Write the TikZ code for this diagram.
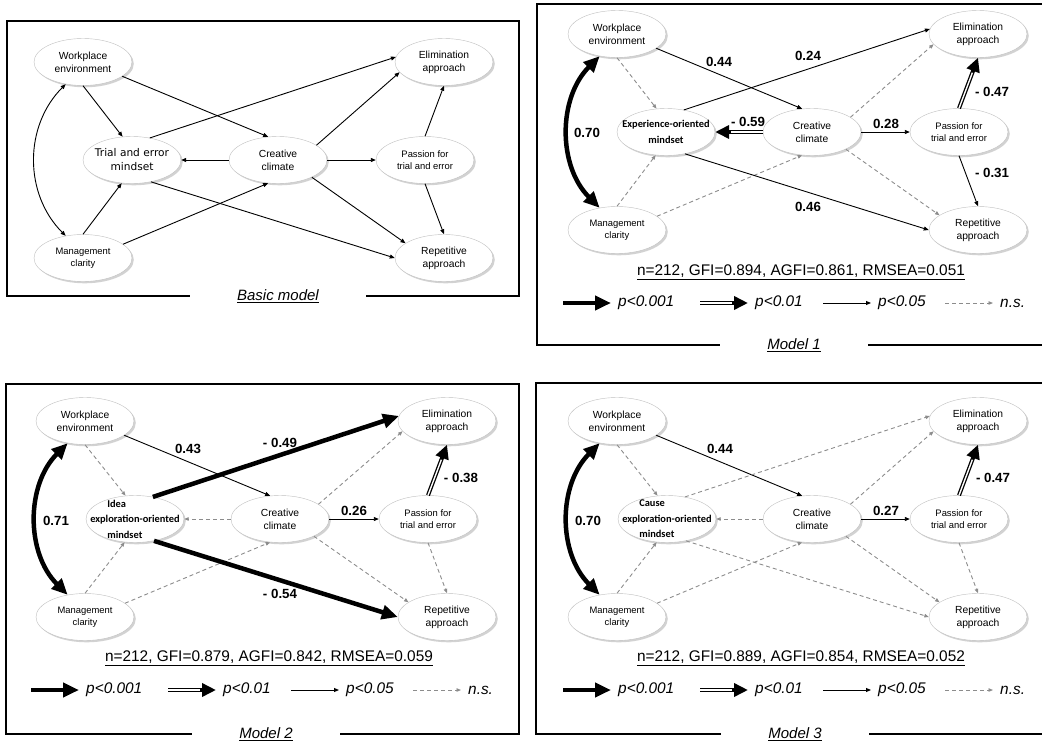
\documentclass[tikz,border=0pt]{standalone}
\usepackage{fontspec}
\setmainfont{Liberation Sans}
\newfontfamily\mindfont{Carlito}
\newfontfamily\trialfont{DejaVu Sans}
\usetikzlibrary{shapes.geometric,arrows.meta,shadows}

\begin{document}
\begin{tikzpicture}[x=1pt, y=-1pt,
	latent/.style={ellipse, draw=black!25, fill=white, minimum width=98pt, minimum height=47pt,
		inner sep=0pt, align=center, font=\fontsize{10.3}{12.7}\selectfont,
		drop shadow={shadow xshift=1.8pt, shadow yshift=-1.8pt, fill=black!35}},
	latentsm/.style={latent, font=\fontsize{9.4}{11.8}\selectfont},
	mindtext/.style={align=center, font=\fontsize{10.4}{15.6}\mindfont\bfseries},
	sig001/.style={line width=4.5pt, >={Triangle[length=16pt,width=14pt]}, ->},
	sig01/.style={line width=4pt, >={Triangle[length=14pt,width=13pt]}, ->,
		postaction={draw=white, line width=1.4pt, -, shorten >=16pt}},
	sig05/.style={line width=0.9pt, >={Triangle[length=5pt,width=4pt]}, ->},
	ns/.style={black!45, line width=0.9pt, dash pattern=on 4pt off 3pt, >={Triangle[length=4.5pt,width=3.5pt]}, ->},
	coef/.style={font=\fontsize{13.3}{15}\selectfont\bfseries},
	stats/.style={font=\fontsize{15.4}{18}\selectfont},
	legtext/.style={anchor=west, inner sep=0pt, font=\fontsize{15.4}{18}\selectfont\itshape},
	panel/.style={line width=2.8pt},
	caption/.style={fill=white, inner xsep=47pt, inner ysep=3pt, font=\fontsize{15}{18}\selectfont\itshape}]
	
	\useasboundingbox (0,0) rectangle (1042,745);
	
	% Basic model
	\begin{scope}[shift={(83,62)}]
		\node[latent] (b-we) at (0,0) {Workplace\\environment};
		\node[latent, label={[align=center, font=\fontsize{10.6}{14}\trialfont]center:Trial and error\\mindset}] (b-mind) at (49,98) {};
		\node[latentsm] (b-mc) at (0,196) {Management\\clarity};
		\node[latent] (b-cc) at (195,98) {Creative\\climate};
		\node[latent] (b-el) at (361,0) {Elimination\\approach};
		\node[latentsm] (b-pa) at (342,98) {Passion for\\trial and error};
		\node[latent] (b-re) at (361,196) {Repetitive\\approach};
		
		% paths
		\draw[sig05, <->] (b-we.232) to[bend right=45] (b-mc.128);
		\draw[sig05] (b-we.270) -- (b-mind.112);
		\draw[sig05] (b-we.340) -- (b-cc.113);
		\draw[sig05] (b-mc.90) -- (b-mind.246);
		\draw[sig05] (b-mc.19) -- (b-cc.247);
		\draw[sig05] (b-cc.west) -- (b-mind.east);
		\draw[sig05] (b-mind.51) -- (b-el.174);
		\draw[sig05] (b-mind.311) -- (b-re.180);
		\draw[sig05] (b-cc.21) -- (b-el.193);
		\draw[sig05] (b-cc.east) -- (b-pa.west);
		\draw[sig05] (b-cc.333) -- (b-re.159);
		\draw[sig05] (b-pa.north) -- (b-el.south);
		\draw[sig05] (b-pa.south) -- (b-re.north);
		
		% frame
		\draw[panel] (-76,-41) rectangle (436,234);
		\node[caption] (b-cap) at (195,234) {\underline{Basic model}};
	\end{scope}
	
	% Model 1
	\begin{scope}[shift={(617,34)}]
		\node[latent] (m1-we) at (0,0) {Workplace\\environment};
		\node[latent, label={[mindtext]center:Experience-oriented\\mindset}] (m1-mind) at (49,98) {};
		\node[latentsm] (m1-mc) at (0,196) {Management\\clarity};
		\node[latent] (m1-cc) at (195,98) {Creative\\climate};
		\node[latent] (m1-el) at (361,0) {Elimination\\approach};
		\node[latentsm] (m1-pa) at (342,98) {Passion for\\trial and error};
		\node[latent] (m1-re) at (361,196) {Repetitive\\approach};
		
		% paths
		\draw[sig001, <->] (m1-we.232) to[bend right=45] (m1-mc.128);
		\draw[ns] (m1-we.270) -- (m1-mind.112);
		\draw[sig05] (m1-we.340) -- (m1-cc.113);
		\draw[ns] (m1-mc.90) -- (m1-mind.246);
		\draw[ns] (m1-mc.19) -- (m1-cc.247);
		\draw[sig01] (m1-cc.west) -- (m1-mind.east);
		\draw[sig05] (m1-mind.51) -- (m1-el.174);
		\draw[sig05] (m1-mind.311) -- (m1-re.180);
		\draw[ns] (m1-cc.21) -- (m1-el.193);
		\draw[sig05] (m1-cc.east) -- (m1-pa.west);
		\draw[ns] (m1-cc.333) -- (m1-re.159);
		\draw[sig01] (m1-pa.north) -- (m1-el.south);
		\draw[sig05] (m1-pa.south) -- (m1-re.north);
		
		% coefficients
		\node[coef] (m1-k1) at (-30,99) {0.70};
		\node[coef] (m1-k2) at (102,28) {0.44};
		\node[coef] (m1-k3) at (191,22) {0.24};
		\node[coef] (m1-k4) at (131,88) {- 0.59};
		\node[coef] (m1-k5) at (269,90) {0.28};
		\node[coef] (m1-k6) at (375,58) {- 0.47};
		\node[coef] (m1-k7) at (375,139) {- 0.31};
		\node[coef] (m1-k8) at (191,173) {0.46};
		
		% fit and legend
		\node[stats] (m1-fit) at (184,238) {\underline{n=212, GFI=0.894, AGFI=0.861, RMSEA=0.051}};
		\node[legtext] (m1-l1) at (1,269) {p<0.001};
		\node[legtext] (m1-l2) at (138,269) {p<0.01};
		\node[legtext] (m1-l3) at (261,269) {p<0.05};
		\node[legtext] (m1-l4) at (383,269) {n.s.};
		\draw[sig001] ([xshift=-55pt]m1-l1.west) -- ([xshift=-7pt]m1-l1.west);
		\draw[sig01] ([xshift=-55pt]m1-l2.west) -- ([xshift=-7pt]m1-l2.west);
		\draw[sig05] ([xshift=-55pt]m1-l3.west) -- ([xshift=-7pt]m1-l3.west);
		\draw[ns] ([xshift=-55pt]m1-l4.west) -- ([xshift=-7pt]m1-l4.west);
		
		% frame
		\draw[panel] (-80,-30) rectangle (445,311);
		\node[caption] (m1-cap) at (177,311) {\underline{Model 1}};
	\end{scope}
	
	% Model 2
	\begin{scope}[shift={(85,421)}]
		\node[latent] (m2-we) at (0,0) {Workplace\\environment};
		\node[latent, label={[mindtext, align=left]center:\hspace*{17pt}Idea\\exploration-oriented\\\hspace*{17pt}mindset}] (m2-mind) at (50,98) {};
		\node[latentsm] (m2-mc) at (0,196) {Management\\clarity};
		\node[latent] (m2-cc) at (195,98) {Creative\\climate};
		\node[latent] (m2-el) at (362,0) {Elimination\\approach};
		\node[latentsm] (m2-pa) at (343,98) {Passion for\\trial and error};
		\node[latent] (m2-re) at (362,196) {Repetitive\\approach};
		
		% paths
		\draw[sig001, <->] (m2-we.232) to[bend right=45] (m2-mc.128);
		\draw[ns] (m2-we.270) -- (m2-mind.112);
		\draw[sig05] (m2-we.340) -- (m2-cc.113);
		\draw[ns] (m2-mc.90) -- (m2-mind.246);
		\draw[ns] (m2-mc.19) -- (m2-cc.247);
		\draw[ns] (m2-cc.west) -- (m2-mind.east);
		\draw[sig001] (m2-mind.51) -- (m2-el.174);
		\draw[sig001] (m2-mind.311) -- (m2-re.180);
		\draw[ns] (m2-cc.21) -- (m2-el.193);
		\draw[sig05] (m2-cc.east) -- (m2-pa.west);
		\draw[ns] (m2-cc.333) -- (m2-re.159);
		\draw[sig01] (m2-pa.north) -- (m2-el.south);
		\draw[ns] (m2-pa.south) -- (m2-re.north);
		
		% coefficients
		\node[coef] (m2-k1) at (-29,100) {0.71};
		\node[coef] (m2-k2) at (103,28) {0.43};
		\node[coef] (m2-k3) at (195,22) {- 0.49};
		\node[coef] (m2-k4) at (195,173) {- 0.54};
		\node[coef] (m2-k5) at (269,90) {0.26};
		\node[coef] (m2-k6) at (376,57) {- 0.38};
		
		% fit and legend
		\node[stats] (m2-fit) at (184,237) {\underline{n=212, GFI=0.879, AGFI=0.842, RMSEA=0.059}};
		\node[legtext] (m2-l1) at (1,269) {p<0.001};
		\node[legtext] (m2-l2) at (138,269) {p<0.01};
		\node[legtext] (m2-l3) at (261,269) {p<0.05};
		\node[legtext] (m2-l4) at (383,269) {n.s.};
		\draw[sig001] ([xshift=-55pt]m2-l1.west) -- ([xshift=-7pt]m2-l1.west);
		\draw[sig01] ([xshift=-55pt]m2-l2.west) -- ([xshift=-7pt]m2-l2.west);
		\draw[sig05] ([xshift=-55pt]m2-l3.west) -- ([xshift=-7pt]m2-l3.west);
		\draw[ns] ([xshift=-55pt]m2-l4.west) -- ([xshift=-7pt]m2-l4.west);
		
		% frame
		\draw[panel] (-79,-37) rectangle (434,313);
		\node[caption] (m2-cap) at (181,313) {\underline{Model 2}};
	\end{scope}
	
	% Model 3
	\begin{scope}[shift={(617,421)}]
		\node[latent] (m3-we) at (0,0) {Workplace\\environment};
		\node[latent, label={[mindtext, align=left]center:\hspace*{17pt}Cause\\exploration-oriented\\\hspace*{17pt}mindset}] (m3-mind) at (50,98) {};
		\node[latentsm] (m3-mc) at (0,196) {Management\\clarity};
		\node[latent] (m3-cc) at (195,98) {Creative\\climate};
		\node[latent] (m3-el) at (361,0) {Elimination\\approach};
		\node[latentsm] (m3-pa) at (342,98) {Passion for\\trial and error};
		\node[latent] (m3-re) at (361,196) {Repetitive\\approach};
		
		% paths
		\draw[sig001, <->] (m3-we.232) to[bend right=45] (m3-mc.128);
		\draw[ns] (m3-we.270) -- (m3-mind.112);
		\draw[sig05] (m3-we.340) -- (m3-cc.113);
		\draw[ns] (m3-mc.90) -- (m3-mind.246);
		\draw[ns] (m3-mc.19) -- (m3-cc.247);
		\draw[ns] (m3-cc.west) -- (m3-mind.east);
		\draw[ns] (m3-mind.51) -- (m3-el.174);
		\draw[ns] (m3-mind.311) -- (m3-re.180);
		\draw[ns] (m3-cc.21) -- (m3-el.193);
		\draw[sig05] (m3-cc.east) -- (m3-pa.west);
		\draw[ns] (m3-cc.333) -- (m3-re.159);
		\draw[sig01] (m3-pa.north) -- (m3-el.south);
		\draw[ns] (m3-pa.south) -- (m3-re.north);
		
		% coefficients
		\node[coef] (m3-k1) at (-29,100) {0.70};
		\node[coef] (m3-k2) at (103,28) {0.44};
		\node[coef] (m3-k3) at (269,90) {0.27};
		\node[coef] (m3-k4) at (376,57) {- 0.47};
		
		% fit and legend
		\node[stats] (m3-fit) at (184,237) {\underline{n=212, GFI=0.889, AGFI=0.854, RMSEA=0.052}};
		\node[legtext] (m3-l1) at (1,269) {p<0.001};
		\node[legtext] (m3-l2) at (138,269) {p<0.01};
		\node[legtext] (m3-l3) at (261,269) {p<0.05};
		\node[legtext] (m3-l4) at (383,269) {n.s.};
		\draw[sig001] ([xshift=-55pt]m3-l1.west) -- ([xshift=-7pt]m3-l1.west);
		\draw[sig01] ([xshift=-55pt]m3-l2.west) -- ([xshift=-7pt]m3-l2.west);
		\draw[sig05] ([xshift=-55pt]m3-l3.west) -- ([xshift=-7pt]m3-l3.west);
		\draw[ns] ([xshift=-55pt]m3-l4.west) -- ([xshift=-7pt]m3-l4.west);
		
		% frame
		\draw[panel] (-81,-38) rectangle (445,313);
		\node[caption] (m3-cap) at (178,313) {\underline{Model 3}};
	\end{scope}
	
\end{tikzpicture}
\end{document}
